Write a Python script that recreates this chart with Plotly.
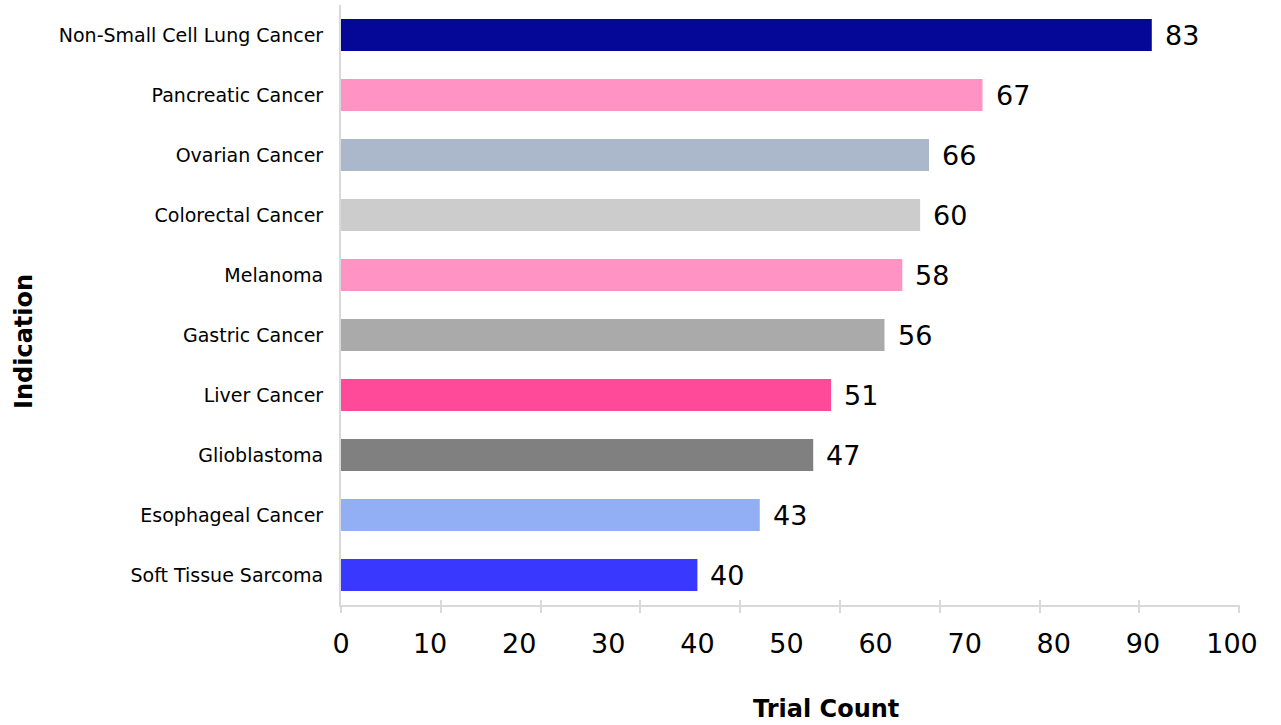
import plotly.graph_objects as go

categories = [
    "Non-Small Cell Lung Cancer", "Pancreatic Cancer", "Ovarian Cancer",
    "Colorectal Cancer", "Melanoma", "Gastric Cancer", "Liver Cancer",
    "Glioblastoma", "Esophageal Cancer", "Soft Tissue Sarcoma",
]
bar_lengths = [91, 72, 66, 65, 63, 61, 55, 53, 47, 40]
value_labels = ["83", "67", "66", "60", "58", "56", "51", "47", "43", "40"]
colors = ["#050896", "#FF94C4", "#ABB8CC", "#CCCCCC", "#FF94C4",
          "#AAAAAA", "#FF4A9A", "#808080", "#92AEF5", "#3838FF"]
tick_values = list(range(0, 101, 10))

FONT = "Verdana, DejaVu Sans, sans-serif"
AXIS_GREY = "#D9D9D9"

W, H = 1281, 725
L, R, T, B = 341, 41, 5, 120
plot_w = W - L - R
plot_h = H - T - B
x_max = 100.9
tick_mark_max = x_max * 8.91 / 9.98

fig = go.Figure()
fig.add_trace(go.Bar(
    x=bar_lengths, y=categories, orientation="h",
    marker=dict(color=colors, line=dict(width=0)),
    showlegend=False, hoverinfo="x+y",
))
# carrier traces for the tick-mark axes
fig.add_trace(go.Scatter(x=[None], y=[None], xaxis="x2", showlegend=False))
fig.add_trace(go.Scatter(x=[None], y=[None], xaxis="x3", showlegend=False))

for cat, length, lab in zip(categories, bar_lengths, value_labels):
    fig.add_annotation(x=length, y=cat, text=lab, showarrow=False,
                       xanchor="left", xshift=11,
                       font=dict(family=FONT, size=27, color="#000000"))

fig.add_annotation(text="<b>Indication</b>", textangle=-90, showarrow=False,
                   xref="paper", yref="paper",
                   x=(24 - L) / plot_w, y=1 - (342 - T) / plot_h,
                   xanchor="center", yanchor="middle",
                   font=dict(family=FONT, size=24, color="#000000"))
fig.add_annotation(text="<b>Trial Count</b>", showarrow=False,
                   xref="paper", yref="paper",
                   x=(826 - L) / plot_w, y=-(709 - T - plot_h) / plot_h,
                   xanchor="center", yanchor="middle",
                   font=dict(family=FONT, size=24, color="#000000"))

fig.update_layout(
    width=W, height=H, autosize=False,
    margin=dict(l=L, r=R, t=T, b=B, pad=0),
    paper_bgcolor="white", plot_bgcolor="white",
    bargap=0.467,
    font=dict(family=FONT, color="#000000"),
    xaxis=dict(range=[0, x_max], tickvals=tick_values,
               ticks="", showgrid=False, zeroline=False,
               showline=True, linecolor=AXIS_GREY, linewidth=2,
               tickfont=dict(family=FONT, size=27, color="#000000"),
               ticklabelstandoff=14),
    xaxis2=dict(overlaying="x", anchor="y", side="bottom",
                range=[0, tick_mark_max], tickvals=tick_values[:10],
                ticks="outside", ticklen=7, tickwidth=2, tickcolor=AXIS_GREY,
                showticklabels=False, showgrid=False, zeroline=False,
                showline=False),
    xaxis3=dict(overlaying="x", anchor="y", side="bottom",
                range=[0, tick_mark_max], tickvals=tick_values[:10],
                ticks="inside", ticklen=5, tickwidth=2, tickcolor=AXIS_GREY,
                showticklabels=False, showgrid=False, zeroline=False,
                showline=False),
    yaxis=dict(categoryorder="array", categoryarray=categories[::-1],
               ticks="", showgrid=False, zeroline=False,
               showline=True, linecolor=AXIS_GREY, linewidth=2,
               tickfont=dict(family=FONT, size=19, color="#000000"),
               ticklabelstandoff=12),
)

fig.write_html("out.html")
